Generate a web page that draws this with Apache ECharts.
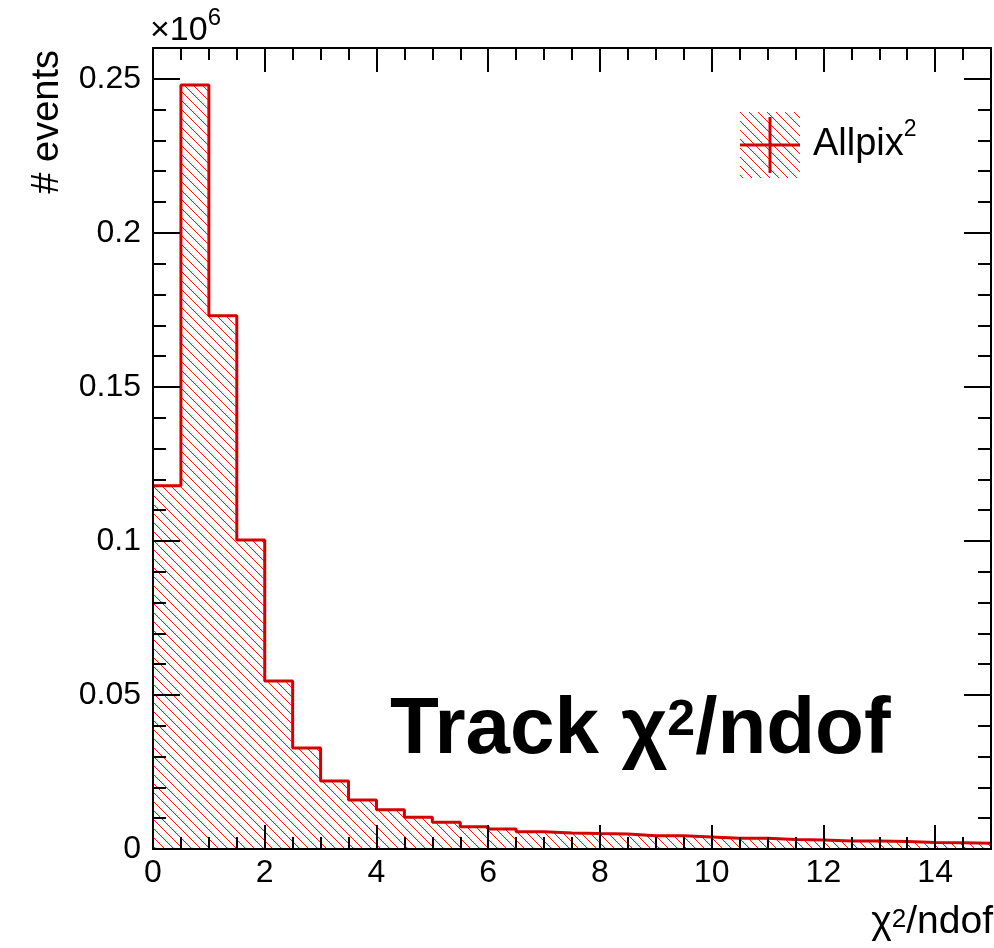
<!DOCTYPE html>
<html>
<head>
<meta charset="utf-8">
<title>Track chi2/ndof</title>
<script src="https://cdn.jsdelivr.net/npm/echarts@6/dist/echarts.min.js"></script>
<style>
  html, body { margin: 0; padding: 0; background: #ffffff; }
  #chart { width: 994px; height: 948px; }
</style>
</head>
<body>
<div id="chart"></div>
<script>
// histogram: 30 bins of width 0.5 on chi2/ndof
const binEdges = [0, 0.5, 1, 1.5, 2, 2.5, 3, 3.5, 4, 4.5, 5, 5.5, 6, 6.5, 7, 7.5,
  8, 8.5, 9, 9.5, 10, 10.5, 11, 11.5, 12, 12.5, 13, 13.5, 14, 14.5, 15];
const counts = [117900, 248000, 173100, 100300, 54500, 32800, 22100, 15900, 12700, 10300,
  8700, 7200, 6500, 5600, 5200, 5000, 4900, 4300, 4300, 3900,
  3500, 3500, 3100, 2900, 2600, 2600, 2400, 2100, 2000, 1900];

const xRange = [0, 15];
const yRange = [0, 260000];
const xMajor = 2, xMinor = 0.5;
const yMajor = 50000, yMinor = 10000;
const yScaleExp = 1e6;

const font = '"Liberation Sans", Arial, Helvetica, sans-serif';
const red = '#d40000';

// hatch tile (crisp 1px "\" lines)
function hatchTile() {
  const c = document.createElement('canvas');
  c.width = 9; c.height = 9;
  const g = c.getContext('2d');
  g.fillStyle = '#ff1010';
  for (let i = 0; i < 9; i++) g.fillRect(i, i, 1, 1);
  return c;
}
const tile = hatchTile();

// legend icon: hatched box + error cross
function legendIcon() {
  const c = document.createElement('canvas');
  c.width = 60; c.height = 66;
  const g = c.getContext('2d');
  g.fillStyle = g.createPattern(tile, 'repeat');
  g.fillRect(0, 0, 60, 66);
  g.strokeStyle = red;
  g.lineWidth = 3;
  g.beginPath(); g.moveTo(30, 5); g.lineTo(30, 61); g.stroke();
  g.beginPath(); g.moveTo(0, 33); g.lineTo(60, 33); g.stroke();
  return c.toDataURL();
}

const lineData = counts.map(function (v, i) { return [binEdges[i], v]; });
lineData.push([binEdges[binEdges.length - 1], counts[counts.length - 1]]);

function xAxisDef(pos, step, len, labels) {
  return {
    type: 'value', position: pos, min: xRange[0], max: xRange[1], interval: step, z: 5,
    axisLine: { show: labels !== null, onZero: false, lineStyle: { color: '#000', width: 2 } },
    axisTick: { show: true, inside: true, length: len, lineStyle: { color: '#000', width: 2 } },
    axisLabel: labels ? {
      show: true, color: '#000', fontSize: 32, fontFamily: font, margin: 8,
      formatter: function (v) { return v === xRange[1] ? '' : String(v); }
    } : { show: false },
    splitLine: { show: false }
  };
}
function yAxisDef(pos, step, len, labels) {
  return {
    type: 'value', position: pos, min: yRange[0], max: yRange[1], interval: step, z: 5,
    axisLine: { show: labels !== null, onZero: false, lineStyle: { color: '#000', width: 2 } },
    axisTick: { show: true, inside: true, length: len, lineStyle: { color: '#000', width: 2 } },
    axisLabel: labels ? {
      show: true, color: '#000', fontSize: 32, fontFamily: font, margin: 12,
      formatter: function (v) { return v % yMajor === 0 ? String(+(v / yScaleExp).toFixed(2)) : ''; }
    } : { show: false },
    splitLine: { show: false }
  };
}

const chart = echarts.init(document.getElementById('chart'));
chart.setOption({
  animation: false,
  backgroundColor: '#ffffff',
  grid: { left: 153, right: 1, top: 48, bottom: 99, containLabel: false },
  xAxis: [
    xAxisDef('bottom', xMajor, 24, true),
    xAxisDef('bottom', xMinor, 12, null),
    xAxisDef('top', xMajor, 24, false),
    xAxisDef('top', xMinor, 12, null)
  ],
  yAxis: [
    yAxisDef('left', yMajor, 27, true),
    yAxisDef('left', yMinor, 13, null),
    yAxisDef('right', yMajor, 27, false),
    yAxisDef('right', yMinor, 13, null)
  ],
  legend: {
    left: 740, top: 112, orient: 'vertical', padding: 0,
    itemWidth: 60, itemHeight: 66, selectedMode: false,
    data: [{ name: 'Allpix²', icon: 'image://' + legendIcon() }],
    formatter: function () { return '{a|Allpix}{s|2}'; },
    textStyle: {
      color: '#000', fontFamily: font, fontSize: 38, padding: [0, 0, 0, 8],
      rich: {
        a: { fontSize: 38, fontFamily: font, color: '#000', lineHeight: 54 },
        s: { fontSize: 23, fontFamily: font, color: '#000', lineHeight: 23, verticalAlign: 'top' }
      }
    }
  },
  graphic: [
    {
      type: 'text', x: 48, y: 50, rotation: Math.PI / 2, silent: true,
      style: { text: '# events', fill: '#000', font: '38px ' + font, align: 'right', verticalAlign: 'middle' }
    },
    {
      type: 'text', x: 150, y: 31, silent: true,
      style: {
        text: '{a|×10}{s|6}', align: 'left', verticalAlign: 'middle',
        rich: {
          a: { fontSize: 34, fontFamily: font, fill: '#000', lineHeight: 49 },
          s: { fontSize: 24, fontFamily: font, fill: '#000', lineHeight: 24, verticalAlign: 'top' }
        }
      }
    },
    {
      type: 'text', x: 993, y: 922, silent: true,
      style: {
        text: '{a|χ}{s|2}{a|/ndof}', align: 'right', verticalAlign: 'middle',
        rich: {
          a: { fontSize: 39, fontFamily: font, fill: '#000', lineHeight: 30 },
          s: { fontSize: 26, fontFamily: font, fill: '#000', lineHeight: 26, verticalAlign: 'top' }
        }
      }
    },
    {
      type: 'text', x: 390, y: 731, silent: true,
      style: {
        text: '{a|Track χ}{s|2}{a|/ndof}', align: 'left', verticalAlign: 'middle',
        rich: {
          a: { fontSize: 80, fontWeight: 'bold', fontFamily: font, fill: '#000', lineHeight: 70 },
          s: { fontSize: 50, fontWeight: 'bold', fontFamily: font, fill: '#000', lineHeight: 50, verticalAlign: 'top' }
        }
      }
    }
  ],
  series: [
    {
      type: 'line', name: 'Allpix²', data: lineData, step: 'end',
      xAxisIndex: 0, yAxisIndex: 0, symbol: 'none', silent: true, z: 2,
      lineStyle: { color: red, width: 3 },
      itemStyle: { color: red },
      areaStyle: { color: { image: tile, repeat: 'repeat' }, opacity: 1 }
    }
  ]
});
</script>
</body>
</html>
